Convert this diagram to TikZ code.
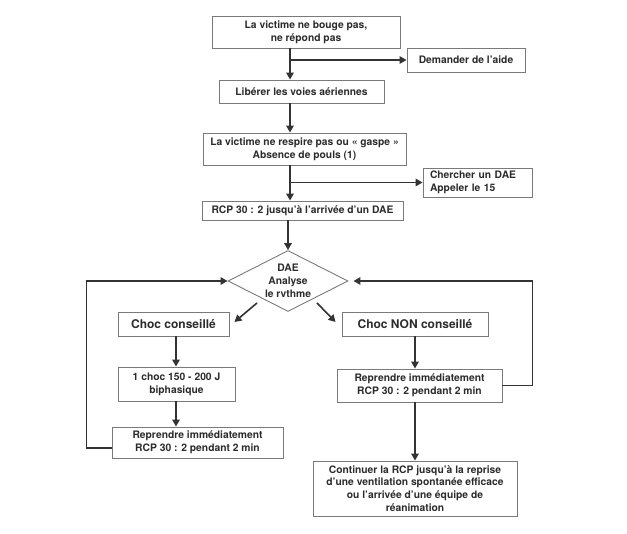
\documentclass[tikz,border=0pt]{standalone}
\usepackage{fontspec}
\setmainfont{TeX Gyre Heros}
\usetikzlibrary{positioning, arrows.meta, calc, shapes.geometric}
\definecolor{boxgray}{HTML}{7A7A7A}
\definecolor{txtgray}{HTML}{2B2B2B}
\definecolor{linkgray}{HTML}{333333}

\begin{document}
\begin{tikzpicture}[
			x=1pt, y=-1pt,
			box/.style={draw=boxgray, line width=0.9pt, text=txtgray, align=center, inner sep=0pt,
				font=\bfseries\fontsize{10.3}{12.8}\selectfont},
			bigbox/.style={box, font=\bfseries\fontsize{12}{14}\selectfont},
			link/.style={draw=linkgray, line width=1.6pt},
			>={Triangle[length=7pt, width=7.5pt]}
			]
			\useasboundingbox (0,0) rectangle (627,534);
			% Axes des liaisons verticales
			\coordinate (axe) at (290,0);
			\coordinate (colL) at (176,0);
			\coordinate (colR) at (415,0);
			
			% Bilan initial
			\node[box, minimum width=188, minimum height=32] (victime) at (306,32) {La victime ne bouge pas,\\ne répond pas};
			\node[box, minimum width=118, minimum height=24] (aide) at (466,60) {Demander de l'aide};
			\node[box, minimum width=165, minimum height=23] (liberer) at (301.5,91.5) {Libérer les voies aériennes};
			\node[box, minimum width=203, minimum height=32] (respire) at (304.5,149) {La victime ne respire pas ou « gaspe »\\Absence de pouls (1)};
			\node[box, align=left, text width=95, inner xsep=7, minimum height=29] (chercher) at (477.5,182.5) {Chercher un DAE\\Appeler le 15};
			\node[box, minimum width=201, minimum height=19] (rcp) at (302.5,210.5) {RCP 30 : 2 jusqu'à l'arrivée d'un DAE};
			
			% Analyse du DAE
			\node[box, diamond, shape aspect=2, inner sep=-3pt, minimum width=120, minimum height=61] (analyse) at (288,281) {DAE\\Analyse\\le rvthme};
			\node[bigbox, minimum width=111, minimum height=24] (choc) at (173.5,324) {Choc conseillé};
			\node[bigbox, minimum width=146, minimum height=24] (nonchoc) at (415,324) {Choc NON conseillé};
			
			% Branche gauche
			\node[box, minimum width=117, minimum height=34] (choc1) at (176.5,384) {1 choc 150 - 200 J\\biphasique};
			\node[box, minimum width=171, minimum height=31] (reprL) at (197.5,442.5) {Reprendre immédiatement\\RCP 30 : 2 pendant 2 min};
			
			% Branche droite
			\node[box, minimum width=165, minimum height=33] (reprR) at (419.5,385.5) {Reprendre immédiatement\\RCP 30 : 2 pendant 2 min};
			\node[box, minimum width=204, minimum height=55] (final) at (415,488.5) {Continuer la RCP jusqu’à la reprise\\d’une ventilation spontanée efficace\\ou l’arrivée d’une équipe de\\réanimation};
			
			% Liaisons du tronc
			\draw[link,->] (victime.south -| axe) -- (liberer.north -| axe);
			\draw[link,->] (axe |- aide) -- (aide.west);
			\draw[link,->] (liberer.south -| axe) -- (respire.north -| axe);
			\draw[link,->] (respire.south -| axe) -- (rcp.north -| axe);
			\draw[link,->] (axe |- chercher) -- (chercher.west);
			\draw[link,->] (rcp.south -| analyse.north) -- (analyse.north);
			
			% Sorties du losange
			\draw[link,->] ([shift={(-31,22)}]analyse.center) -- ([shift={(5,-2)}]choc.east);
			\draw[link,->] ([shift={(29,22)}]analyse.center) -- ([shift={(-6,-2)}]nonchoc.west);
			
			% Liaisons des branches
			\draw[link,->] (choc.south -| colL) -- (choc1.north -| colL);
			\draw[link,->] (choc1.south -| colL) -- (reprL.north -| colL);
			\draw[link,->] (nonchoc.south -| colR) -- (reprR.north -| colR);
			\draw[link,->] (reprR.south -| colR) -- (final.north -| colR);
			
			% Boucles de retour
			\draw[link,->] ([yshift=-5.5pt]reprL.west) -- ++(-25,0) |- (analyse.west);
			\draw[link,->] (reprR.east) -- ++(30,0) |- ([xshift=5pt]analyse.east);
			
		\end{tikzpicture}
\end{document}
